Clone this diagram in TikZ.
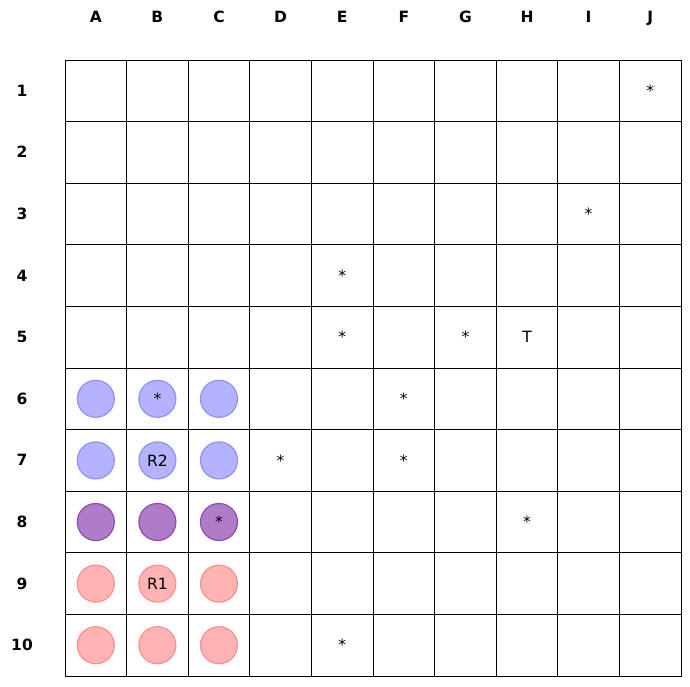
\documentclass[tikz,border=0pt]{standalone}
\usepackage{fontspec}
\setmainfont{DejaVu Sans}
\usetikzlibrary{positioning}
\definecolor{GridLine}{HTML}{000000}
\definecolor{BlueFill}{HTML}{B3B3FF}
\definecolor{BlueEdge}{HTML}{8F8FFF}
\definecolor{PurpleFill}{HTML}{B07CC8}
\definecolor{PurpleEdge}{HTML}{9049B6}
\definecolor{PinkFill}{HTML}{FFB3B3}
\definecolor{PinkEdge}{HTML}{FF8F8F}

\begin{document}
\begin{tikzpicture}[x=1pt,y=-1pt,
    cell/.style={draw=GridLine,line width=1pt,minimum size=61.6pt,inner sep=0pt},
    axislabel/.style={font=\fontsize{15.5}{18}\selectfont\bfseries,inner sep=0pt,
      text height=11pt,text depth=0pt},
    celltext/.style={font=\fontsize{15.5}{18}\selectfont,inner sep=0pt},
    token/.style={circle,minimum size=37pt,inner sep=0pt,line width=1.2pt,
      font=\fontsize{15.5}{18}\selectfont},
    bluetok/.style={token,fill=BlueFill,draw=BlueEdge},
    purpletok/.style={token,fill=PurpleFill,draw=PurpleEdge},
    pinktok/.style={token,fill=PinkFill,draw=PinkEdge}
  ]
    \useasboundingbox (0,0) rectangle (690,686);
    % board
    \foreach \c in {1,...,10}
      \foreach \r in {1,...,10}
        \node[cell] (cell-\c-\r) at (65+61.6*\c-30.8,60+61.6*\r-30.8) {};
    % column and row labels
    \foreach \l [count=\c] in {A,B,C,D,E,F,G,H,I,J}
      \node[axislabel] (col-\l) at (65+61.6*\c-30.8,17) {\l};
    \foreach \r in {1,...,10}
      \node[axislabel] (row-\r) at (22,60+61.6*\r-30.8) {\r};
    % tokens
    \foreach \c in {1,2,3} {
      \node[bluetok] (blue-\c-6) at (cell-\c-6) {};
      \node[bluetok] (blue-\c-7) at (cell-\c-7) {};
      \node[purpletok] (purple-\c-8) at (cell-\c-8) {};
      \node[pinktok] (pink-\c-9) at (cell-\c-9) {};
      \node[pinktok] (pink-\c-10) at (cell-\c-10) {};
    }
    \node[celltext] (r2) at (blue-2-7) {R2};
    \node[celltext] (r1) at (pink-2-9) {R1};
    \node[celltext] (target) at (cell-8-5) {T};
    % marks
    \foreach \c/\r in {10/1,9/3,5/4,5/5,7/5,6/6,2/6,4/7,6/7,3/8,8/8,5/10}
      \node[celltext] (mark-\c-\r) at (cell-\c-\r) {*};
  \end{tikzpicture}
\end{document}
